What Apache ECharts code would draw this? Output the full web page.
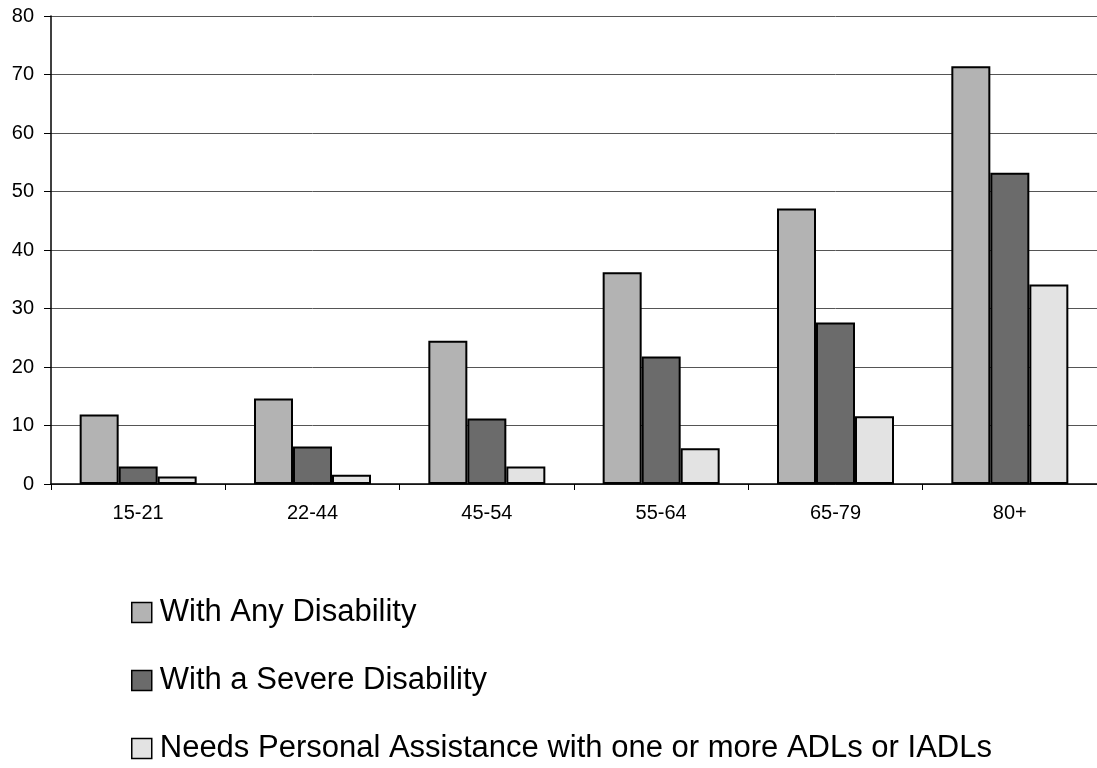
<!DOCTYPE html>
<html>
<head>
<meta charset="utf-8">
<script src="https://cdn.jsdelivr.net/npm/echarts@6/dist/echarts.min.js"></script>
<style>
  html, body { margin: 0; padding: 0; background: #fff; }
  #chart { width: 1097px; height: 768px; }
</style>
</head>
<body>
<div id="chart"></div>
<script>
// Age groups on the category axis
const ageGroups = ['15-21', '22-44', '45-54', '55-64', '65-79', '80+'];

// Percent of people in each age group
const anyDisability = [11.9, 14.6, 24.5, 36.2, 47.1, 71.4];
const severeDisability = [3.0, 6.4, 11.2, 21.8, 27.6, 53.2];
const needsAssistance = [1.3, 1.6, 3.0, 6.1, 11.6, 34.1];

const seriesNames = [
  'With Any Disability',
  'With a Severe Disability',
  'Needs Personal Assistance with one or more ADLs or IADLs'
];

const yTicks = { min: 0, max: 80, interval: 10 };

const fontFamily = '"Liberation Sans", Arial, sans-serif';
const fills = ['#b3b3b3', '#6b6b6b', '#e3e3e3'];

function barSeries(name, data, color) {
  return {
    name: name,
    type: 'bar',
    data: data,
    barWidth: 39,
    barGap: '0%',
    itemStyle: { color: color, borderColor: '#000', borderWidth: 2 },
    emphasis: { disabled: true }
  };
}

const chart = echarts.init(document.getElementById('chart'), null, { renderer: 'canvas' });
chart.setOption({
  animation: false,
  backgroundColor: '#fff',
  grid: { left: 51, top: 16, width: 1050, height: 468, containLabel: false },
  legend: {
    orient: 'vertical',
    left: 131,
    top: 597,
    height: 171,
    padding: 0,
    itemWidth: 20,
    itemHeight: 20,
    itemGap: 37,
    icon: 'rect',
    selectedMode: false,
    textStyle: { fontFamily: fontFamily, fontSize: 31, lineHeight: 31, color: '#000', padding: [0, 0, 0, 3] },
    data: seriesNames.map((n, i) => ({
      name: n,
      itemStyle: { color: fills[i], borderColor: '#000', borderWidth: 1.5 }
    }))
  },
  xAxis: {
    type: 'category',
    data: ageGroups,
    axisLine: { lineStyle: { color: '#000', width: 1.5 } },
    axisTick: { show: true, length: 6, lineStyle: { color: '#000' } },
    axisLabel: { fontFamily: fontFamily, fontSize: 20, color: '#000', margin: 19 }
  },
  yAxis: {
    type: 'value',
    min: yTicks.min,
    max: yTicks.max,
    interval: yTicks.interval,
    axisLine: { show: true, lineStyle: { color: '#000', width: 1.5 } },
    axisTick: { show: true, length: 7, lineStyle: { color: '#000' } },
    axisLabel: { fontFamily: fontFamily, fontSize: 20, color: '#000', margin: 17 },
    splitLine: { show: true, lineStyle: { color: '#555', width: 1 } }
  },
  series: [
    barSeries(seriesNames[0], anyDisability, fills[0]),
    barSeries(seriesNames[1], severeDisability, fills[1]),
    barSeries(seriesNames[2], needsAssistance, fills[2])
  ]
});
</script>
</body>
</html>
